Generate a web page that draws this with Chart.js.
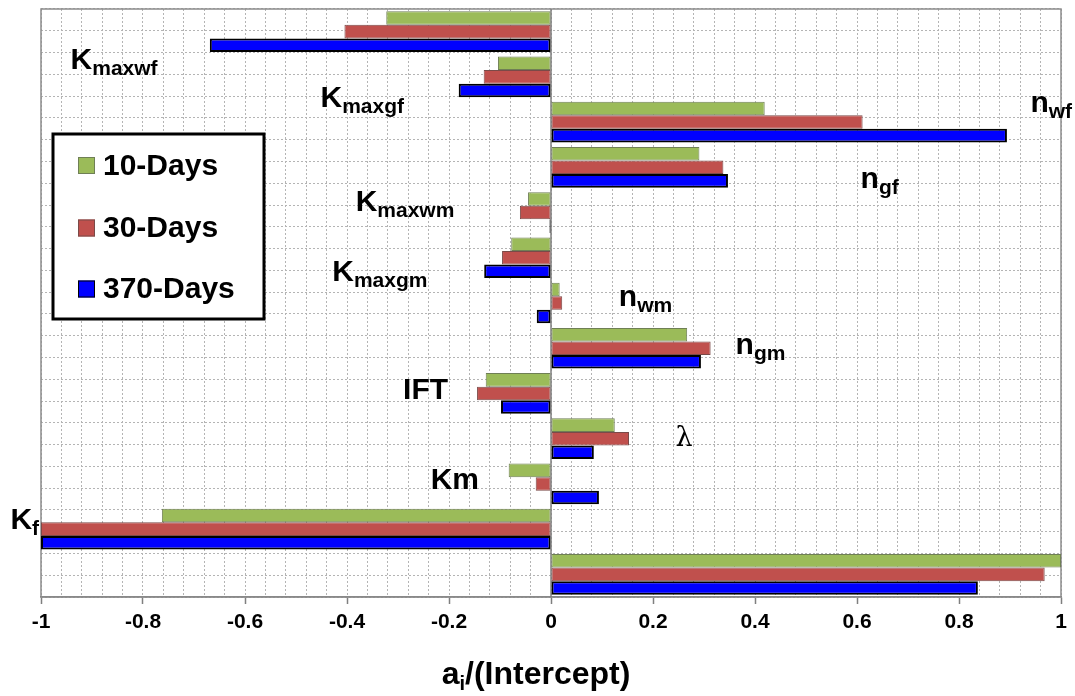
<!DOCTYPE html>
<html>
<head>
<meta charset="utf-8">
<script src="https://cdn.jsdelivr.net/npm/chart.js@4.4.1/dist/chart.umd.min.js"></script>
<style>
  html, body { margin: 0; padding: 0; background: #ffffff; }
  #wrap { width: 1075px; height: 696px; }
</style>
</head>
<body>
<div id="wrap"><canvas id="c" width="1075" height="696"></canvas></div>
<script>
// Parameter groups, top to bottom
const categories = ['Kmaxwf', 'Kmaxgf', 'nwf', 'ngf', 'Kmaxwm', 'Kmaxgm', 'nwm', 'ngm', 'IFT', 'lambda', 'Km', 'Kf', ''];

// Normalised coefficients a_i / (Intercept) for each ageing time
const days10  = [-0.323, -0.104, 0.419, 0.291, -0.045, -0.078,  0.017, 0.267, -0.128, 0.125, -0.083, -0.763, 1.000];
const days30  = [-0.405, -0.132, 0.611, 0.338, -0.061, -0.096,  0.022, 0.313, -0.145, 0.153, -0.030, -1.000, 0.968];
const days370 = [-0.669, -0.181, 0.894, 0.347, -0.003, -0.131, -0.028, 0.294, -0.098, 0.084,  0.094, -1.000, 0.837];

const seriesNames = ['10-Days', '30-Days', '370-Days'];

// Labelled ticks of the value axis
const xTickLabels = ['-1', '-0.8', '-0.6', '-0.4', '-0.2', '0', '0.2', '0.4', '0.6', '0.8', '1'];

// Parameter names written beside the bar groups (main text + subscript)
const paramMain = ['K', 'K', 'n', 'n', 'K', 'K', 'n', 'n', 'IFT', '\u03bb', 'Km', 'K'];
const paramSub  = ['maxwf', 'maxgf', 'wf', 'gf', 'maxwm', 'maxgm', 'wm', 'gm', '', '', '', 'f'];

// Where each parameter name sits: x in axis units, y in half-group units from the top
const paramPlacement = [
  { x: -0.942, y: 2.27 }, { x: -0.452, y: 4.01 }, { x: 0.940, y: 4.23 }, { x: 0.607, y: 7.70 },
  { x: -0.383, y: 8.76 }, { x: -0.429, y: 12.01 }, { x: 0.133, y: 13.13 }, { x: 0.362, y: 15.34 },
  { x: -0.290, y: 17.41 }, { x: 0.244, y: 19.58 }, { x: -0.236, y: 21.56 }, { x: -1.060, y: 23.40 }
];

const FONT = '"Liberation Sans", Arial, sans-serif';

function labelFor(v) {
  const k = Math.round(v * 5);
  if (Math.abs(v * 5 - k) > 1e-6) return '';
  return xTickLabels[k + 5];
}

const overlay = {
  id: 'overlay',
  beforeDatasetsDraw(chart) {
    const { ctx, chartArea: a, scales } = chart;
    const x0 = scales.x.getPixelForValue(0);
    ctx.save();
    // plot frame
    ctx.strokeStyle = '#8c8c8c';
    ctx.lineWidth = 1.5;
    ctx.strokeRect(a.left, a.top, a.right - a.left, a.bottom - a.top);
    // zero axis
    ctx.strokeStyle = '#7f7f7f';
    ctx.lineWidth = 1.5;
    ctx.beginPath();
    ctx.moveTo(x0, a.top);
    ctx.lineTo(x0, a.bottom);
    ctx.stroke();
    ctx.restore();
  },
  afterDraw(chart) {
    const { ctx, chartArea: a, scales } = chart;
    const xs = scales.x, ys = scales.yGrid;
    ctx.save();
    ctx.fillStyle = '#000';
    ctx.textBaseline = 'alphabetic';
    ctx.textAlign = 'left';

    // parameter names
    paramMain.forEach((m, i) => {
      const p = paramPlacement[i];
      const px = xs.getPixelForValue(p.x);
      const py = ys.getPixelForValue(p.y);
      if (m === '\u03bb') {
        ctx.font = '27px "DejaVu Serif", "Liberation Serif", serif';
        ctx.fillText(m, px, py);
        return;
      }
      ctx.font = 'bold 30px ' + FONT;
      ctx.fillText(m, px, py);
      if (paramSub[i]) {
        const w = ctx.measureText(m).width;
        ctx.font = 'bold 21px ' + FONT;
        ctx.fillText(paramSub[i], px + w, py + 6);
      }
    });

    // legend box
    const lx = a.left + 12, ly = a.top + 125, lw = 211, lh = 185;
    ctx.fillStyle = '#fff';
    ctx.fillRect(lx, ly, lw, lh);
    ctx.strokeStyle = '#000';
    ctx.lineWidth = 3;
    ctx.strokeRect(lx, ly, lw, lh);
    const rows = [31.5, 94, 155];
    chart.data.datasets.forEach((ds, i) => {
      const cy = ly + rows[i];
      ctx.fillStyle = ds.backgroundColor;
      ctx.fillRect(lx + 25, cy - 8.5, 17, 17);
      ctx.strokeStyle = ds.borderColor;
      ctx.lineWidth = 1;
      ctx.strokeRect(lx + 25.5, cy - 8, 16, 16);
      ctx.fillStyle = '#000';
      ctx.font = 'bold 30px ' + FONT;
      ctx.textBaseline = 'middle';
      ctx.fillText(ds.label, lx + 50, cy + 1);
    });

    // axis title a_i/(Intercept)
    ctx.textBaseline = 'alphabetic';
    const t1 = 'a', t2 = 'i', t3 = '/(Intercept)';
    ctx.font = 'bold 32px ' + FONT;
    const w1 = ctx.measureText(t1).width, w3 = ctx.measureText(t3).width;
    ctx.font = 'bold 20px ' + FONT;
    const w2 = ctx.measureText(t2).width;
    const total = w1 + w2 + w3;
    const tx = 536 - total / 2;
    const ty = 684;
    ctx.font = 'bold 32px ' + FONT;
    ctx.fillText(t1, tx, ty);
    ctx.font = 'bold 20px ' + FONT;
    ctx.fillText(t2, tx + w1, ty + 6);
    ctx.font = 'bold 32px ' + FONT;
    ctx.fillText(t3, tx + w1 + w2, ty);
    ctx.restore();
  }
};

const gridColor = '#b4b4b4';

new Chart(document.getElementById('c'), {
  type: 'bar',
  data: {
    labels: categories,
    datasets: [
      { label: seriesNames[0], data: days10,  backgroundColor: '#9BBB59', borderColor: '#6f7f55', borderWidth: 1 },
      { label: seriesNames[1], data: days30,  backgroundColor: '#C0504D', borderColor: '#7a4a48', borderWidth: 1 },
      { label: seriesNames[2], data: days370, backgroundColor: '#0000FF', borderColor: '#000000', borderWidth: 2 }
    ]
  },
  options: {
    indexAxis: 'y',
    responsive: false,
    animation: false,
    devicePixelRatio: 1,
    datasets: { bar: { barPercentage: 1.0, categoryPercentage: 0.9, borderSkipped: false } },
    layout: { padding: { left: 41, right: 14, top: 9, bottom: 0 } },
    plugins: { legend: { display: false }, tooltip: { enabled: false } },
    scales: {
      x: {
        type: 'linear',
        min: -1, max: 1,
        afterFit: (s) => { s.height = 99; },
        ticks: {
          stepSize: 0.04,
          autoSkip: false,
          maxRotation: 0,
          padding: 6,
          color: '#000',
          font: { family: FONT, size: 21, weight: 'bold' },
          callback: (v) => labelFor(v)
        },
        grid: {
          color: gridColor,
          lineWidth: 1,
          tickLength: 7,
          tickColor: (c) => (c.tick && labelFor(c.tick.value) !== '') ? '#7f7f7f' : 'rgba(0,0,0,0)',
          tickWidth: 1.5
        },
        border: { display: true, color: '#7f7f7f', width: 1.5, dash: [2, 2] }
      },
      y: {
        type: 'category',
        display: false,
        offset: true
      },
      yGrid: {
        type: 'linear',
        position: 'left',
        min: 0, max: 26,
        reverse: true,
        afterFit: (s) => { s.width = 0; },
        ticks: { display: false, stepSize: 1 },
        grid: { color: gridColor, lineWidth: 1, drawTicks: false },
        border: { display: false, dash: [2, 2] }
      }
    }
  },
  plugins: [overlay]
});
</script>
</body>
</html>
